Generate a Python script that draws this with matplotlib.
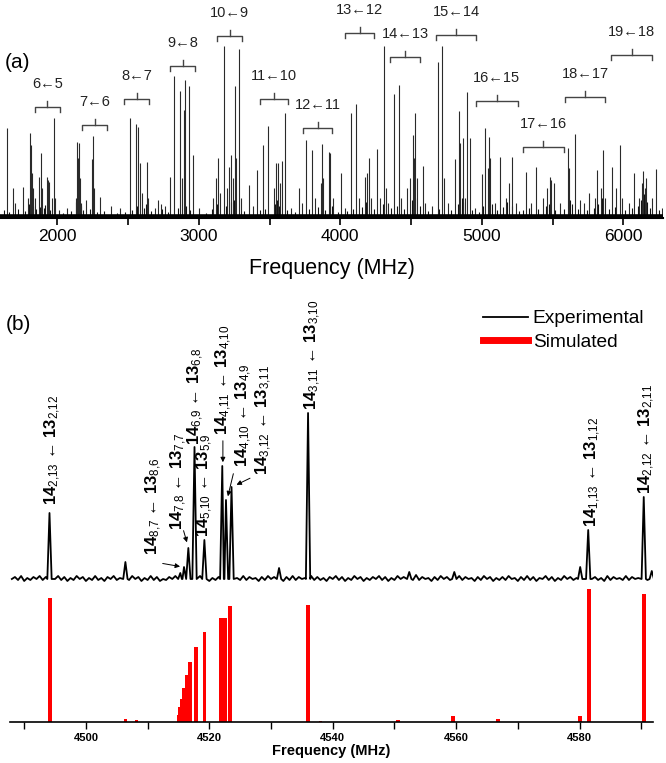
import numpy as np
import matplotlib
matplotlib.use('Agg')
from matplotlib import pyplot as plt
from matplotlib import ticker as mticker
from matplotlib.lines import Line2D

plt.rcParams['font.family'] = ['Liberation Sans', 'DejaVu Sans']
plt.rcParams['mathtext.fontset'] = 'custom'
plt.rcParams['mathtext.rm'] = 'Liberation Sans'
plt.rcParams['mathtext.bf'] = 'Liberation Sans:bold'
plt.rcParams['mathtext.it'] = 'Liberation Sans:italic'

W, H = 666, 763

# ---- (a) broadband spectrum: strong lines (MHz, arb. units)
a_freq = [1647, 1685, 1700, 1755, 1790, 1807, 1812, 1818, 1825, 1840, 1869, 1883, 1895, 1925, 1935,
          1944, 1960, 1977, 1985, 2010, 2070, 2130, 2141, 2148, 2155, 2160, 2170, 2200, 2245, 2254,
          2262, 2302, 2380, 2440, 2514, 2556, 2573, 2584, 2600, 2632, 2640, 2690, 2710, 2730, 2760,
          2796, 2825, 2867, 2880, 2895, 2903, 2929, 2957, 3000, 3100, 3122, 3138, 3150, 3178, 3200,
          3216, 3225, 3240, 3258, 3265, 3282, 3300, 3355, 3380, 3412, 3452, 3489, 3530, 3546, 3560,
          3575, 3588, 3607, 3650, 3706, 3730, 3758, 3801, 3820, 3860, 3871, 3880, 3918, 3927, 3950,
          4003, 4030, 4073, 4111, 4130, 4172, 4188, 4205, 4220, 4257, 4280, 4309, 4320, 4340, 4380,
          4413, 4430, 4470, 4495, 4512, 4520, 4530, 4540, 4587, 4600, 4650, 4688, 4719, 4730, 4760,
          4808, 4841, 4848, 4865, 4880, 4897, 4916, 4950, 5001, 5025, 5040, 5053, 5060, 5090, 5131,
          5170, 5195, 5216, 5240, 5310, 5350, 5380, 5430, 5460, 5484, 5490, 5507, 5550, 5610, 5615,
          5657, 5690, 5720, 5760, 5800, 5813, 5840, 5855, 5870, 5921, 5950, 5973, 5990, 6040, 6072,
          6110, 6135, 6142, 6150, 6160, 6200, 6234, 6270]
a_int = [90, 30, 15, 31, 20, 85, 73, 45, 30, 20, 41, 65, 30, 41, 38,
         36, 20, 100, 20, 8, 10, 20, 76, 60, 75, 40, 15, 18, 59, 82,
         30, 21, 12, 10, 100, 94, 91, 55, 25, 56, 20, 10, 18, 14, 12,
         41, 142, 127, 40, 108, 138, 132, 63, 10, 20, 40, 60, 25, 172, 30,
         51, 63, 40, 132, 60, 169, 20, 33, 12, 48, 73, 92, 30, 55, 55,
         35, 57, 105, 10, 30, 15, 78, 68, 20, 35, 74, 40, 66, 65, 20,
         45, 10, 105, 114, 20, 41, 45, 60, 20, 69, 20, 172, 30, 15, 124,
         133, 20, 30, 40, 83, 60, 105, 40, 52, 15, 12, 156, 172, 40, 15,
         59, 107, 75, 80, 20, 126, 80, 10, 44, 90, 50, 81, 60, 15, 61,
         20, 35, 61, 15, 46, 15, 51, 20, 30, 41, 38, 35, 15, 70, 50,
         84, 18, 15, 25, 20, 48, 30, 68, 20, 51, 30, 73, 20, 15, 45,
         20, 35, 47, 30, 40, 20, 49, 10]

# weak lines forming the dense grass near the baseline
weak_freq = [1620, 1660, 1720, 1770, 1800, 1815, 1830, 1850, 1875, 1905, 1915, 1950, 2040, 2100,
             2135, 2145, 2152, 2165, 2185, 2230, 2280, 2330, 2420, 2480, 2530, 2565, 2610, 2625,
             2660, 2740, 2780, 2850, 2910, 2940, 3050, 3090, 3130, 3190, 3230, 3250, 3320, 3430,
             3470, 3540, 3553, 3568, 3620, 3680, 3780, 3840, 3890, 3940, 3980, 4050, 4090, 4150,
             4180, 4240, 4300, 4360, 4400, 4450, 4505, 4525, 4560, 4620, 4700, 4780, 4830, 4858,
             4870, 4930, 4980, 5010, 5070, 5110, 5150, 5180, 5210, 5260, 5290, 5330, 5400, 5450,
             5475, 5520, 5580, 5625, 5640, 5680, 5740, 5790, 5820, 5848, 5900, 5940, 6010, 6060,
             6100, 6125, 6145, 6155, 6170, 6190, 6250]
weak_int = [8, 6, 9, 7, 14, 18, 12, 9, 11, 10, 13, 8, 5, 7,
            16, 22, 18, 12, 8, 9, 6, 7, 5, 6, 8, 12, 10, 14,
            7, 9, 6, 10, 12, 8, 5, 9, 14, 12, 16, 18, 7, 8,
            9, 14, 18, 12, 8, 6, 9, 11, 8, 12, 6, 7, 9, 11,
            16, 9, 14, 10, 12, 9, 18, 20, 12, 7, 9, 8, 14, 20,
            16, 8, 6, 12, 14, 8, 11, 16, 12, 7, 8, 10, 9, 12,
            14, 8, 9, 18, 14, 9, 8, 10, 14, 20, 9, 11, 8, 10,
            12, 18, 24, 20, 16, 10, 8]

# brackets: J'<-J'' groups
br_lo = [1842, 2175, 2472, 2797, 3129, 3433, 3737, 4033, 4351, 4676, 4958, 5290, 5588, 5913]
br_hi = [2019, 2351, 2648, 2973, 3305, 3630, 3942, 4238, 4563, 4958, 5255, 5580, 5870, 6202]
br_h = [111, 93, 119, 152, 182, 119, 90, 185, 161, 183, 117, 71, 121, 163]
br_lbl = ['6←5', '7←6', '8←7', '9←8', '10←9', '11←10', '12←11', '13←12', '14←13',
          '15←14', '16←15', '17←16', '18←17', '19←18']

# ---- (b) zoom on 14<-13
exp_freq = [4494.1, 4506.4, 4515.3, 4515.9, 4516.6, 4517.6, 4519.2, 4522.1, 4522.7, 4523.6,
            4531.3, 4536.0, 4552.4, 4559.7, 4580.1, 4581.4, 4590.4, 4591.7]
exp_int = [66, 17, 6, 12, 31, 132, 39, 113, 79, 92, 11, 166, 7, 7, 12, 49, 82, 8]
exp_noise = [0, 2, -1, 3, -2, 1, -1, 2, 0, 3, -1, 2, -2, 1, 0, 3, -1, 2, -2, 1,
             -1, 3, 0, 2, -2, 1, -1, 3, -1, 1, -2, 2, 0, 3, -1, 1, -2, 2, -1, 3,
             0, 2, -2, 1, -1, 3, -1, 2, -2, 0, -1, 2, 0, 3, -2, 1, -1, 2, -2, 1,
             0, 3, -1, 2, -2, 1, -1, 2, -1, 3, 0, 2, -2, 1, -1, 3, -1, 2, 0, 1,
             -2, 2, -1, 3, 0, 2, -1, 1, -2, 2, -1, 3, -1, 2, 0, 1, -2, 3, -1, 2,
             -1, 1, -2, 2, 0, 3, -1, 2, -2, 1, -1, 3, 0, 2, -2, 1, -1, 2, 0, 3,
             -1, 2, -2, 1, -1, 3, 0, 2, -2, 1, -1, 4, -1, 2, 0, 1, -2, 2, -1, 3,
             0, 2, -1, 1, -2, 3, -1, 2, 0, 1, -2, 2, -1, 3, 0, 2, -2, 1, -1, 2,
             -1, 3, 0, 1, -2, 2, -1, 3, -1, 2, -2, 1, 0, 3, -1, 2, -2, 1, -1, 3,
             0, 2, -1, 1, -2, 2, -1, 3, 0, 2, -1, 1, -2, 3, -1, 2, 0, 1, -1, 3,
             -1, 2, 0, 1, -2, 3, -1, 2, 0]
sim_freq = [4494.2, 4506.4, 4508.2, 4515.0, 4515.2, 4515.5, 4515.9, 4516.3, 4516.9, 4517.8,
            4519.2, 4521.9, 4522.5, 4523.4, 4536.0, 4538.0, 4550.6, 4559.5, 4566.8, 4580.1,
            4581.5, 4590.4]
sim_int = [124, 3, 2, 7, 15, 23, 34, 47, 60, 75,
           90, 104, 104, 116, 117, 1, 2, 6, 3, 6,
           133, 128]

# assignments: upper/lower quantum numbers, x (MHz), label base height
lab_up = ['14', '14', '14', '14', '14', '14', '14', '14', '14', '14', '14']
lab_up_k = ['2,13', '8,7', '7,8', '6,9', '5,10', '4,11', '4,10', '3,12', '3,11', '1,13', '2,12']
lab_lo = ['13', '13', '13', '13', '13', '13', '13', '13', '13', '13', '13']
lab_lo_k = ['2,12', '8,6', '7,7', '6,8', '5,9', '4,10', '4,9', '3,11', '3,10', '1,12', '2,11']
lab_x = [4494.6, 4511.0, 4515.1, 4517.8, 4519.3, 4522.3, 4525.6, 4528.9, 4536.7, 4582.2, 4590.9]
lab_y = [74, 24, 49, 134, 42, 144, 112, 104, 169, 52, 85]
# arrows from label to peak (x0, y0, x1, y1)
arr = [(4512.0, 16, 4515.7, 12),
       (4515.7, 51, 4516.5, 34),
       (4522.2, 141, 4522.2, 114),
       (4524.0, 108, 4522.9, 80),
       (4527.0, 102, 4524.0, 93)]

fig = plt.figure(figsize=(W / 100, H / 100), dpi=100)

# ---------------- panel (a)
ax = fig.add_axes([0, 1 - 218 / H, 663 / W, 218 / H])
ax.vlines(weak_freq, 0, weak_int, color='#111111', lw=0.8)
ax.vlines(a_freq, 0, a_int, color='#2a2a2a', lw=0.8)
ax.axhline(2, color='k', lw=2.6)
for lo, hi, h, t in zip(br_lo, br_hi, br_h, br_lbl):
    mid = (lo + hi) / 2
    ax.plot([lo, lo, hi, hi], [h - 5, h, h, h - 5], color='#444444', lw=1)
    ax.plot([mid, mid], [h, h + 6], color='#444444', lw=1)
    ax.text(mid, h + 23, t, ha='center', va='center', fontsize=10.5, color='#222222')
ax.set_xlim(1595, 6280)
ax.set_ylim(0, 218)
for s in ['top', 'left', 'right']:
    ax.spines[s].set_visible(False)
ax.spines['bottom'].set_linewidth(1.5)
ax.set_yticks([])
ax.xaxis.set_major_locator(mticker.MultipleLocator(1000))
ax.xaxis.set_minor_locator(mticker.MultipleLocator(500))
ax.tick_params(axis='x', which='both', direction='out', length=5, width=1.2, labelsize=12.5, pad=3)
ax.set_xlabel('Frequency (MHz)', fontsize=15.5, labelpad=10)
fig.text(17 / W, 1 - 63 / H, '(a)', fontsize=15, ha='center', va='center')

# ---------------- panel (b), experimental trace
ax_e = fig.add_axes([10 / W, 1 - 590 / H, 643 / W, 290 / H])
nx = np.linspace(4488, 4592, len(exp_noise))
keep = np.ones(len(nx), bool)
for f in exp_freq:
    keep &= np.abs(nx - f) > 0.4
px = list(nx[keep])
py = list(np.array(exp_noise, float)[keep])
for f, h in zip(exp_freq, exp_int):
    px += [f - 0.35, f, f + 0.35]
    py += [0, h, 0]
order = np.argsort(px)
line_exp, = ax_e.plot(np.array(px)[order], np.array(py)[order], color='k', lw=1.3)
for u, uk, l, lk, x, y in zip(lab_up, lab_up_k, lab_lo, lab_lo_k, lab_x, lab_y):
    t = r'$\mathbf{%s}_{\mathrm{%s}}$ ← $\mathbf{%s}_{\mathrm{%s}}$' % (
        u, uk.replace(',', '{,}'), l, lk.replace(',', '{,}'))
    ax_e.text(x, y, t, rotation=90, ha='center', va='bottom', fontsize=12)
for x0, y0, x1, y1 in arr:
    ax_e.annotate('', xy=(x1, y1), xytext=(x0, y0),
                  arrowprops=dict(arrowstyle='-|>', color='k', lw=0.7, mutation_scale=7))
ax_e.set_xlim(4487.7, 4591.9)
ax_e.set_ylim(-11, 279)
ax_e.axis('off')

# ---------------- panel (b), simulated sticks
ax_s = fig.add_axes([10 / W, 1 - 722 / H, 643 / W, 135 / H])
ax_s.bar(sim_freq, sim_int, width=0.6, color='#ff0000', edgecolor='none')
ax_s.set_xlim(4487.7, 4591.9)
ax_s.set_ylim(0, 135)
for s in ['top', 'left', 'right']:
    ax_s.spines[s].set_visible(False)
ax_s.spines['bottom'].set_linewidth(1.2)
ax_s.set_yticks([])
ax_s.xaxis.set_major_locator(mticker.MultipleLocator(20))
ax_s.xaxis.set_minor_locator(mticker.MultipleLocator(10))
ax_s.tick_params(axis='x', which='both', direction='out', length=5, width=1, labelsize=8, pad=3)
for lb in ax_s.get_xticklabels():
    lb.set_fontweight('bold')
ax_s.set_xlabel('Frequency (MHz)', fontsize=10.5, fontweight='bold', labelpad=1)
fig.text(18 / W, 1 - 325 / H, '(b)', fontsize=15, ha='center', va='center')

h_sim = Line2D([], [], color='#ff0000', lw=5)
fig.legend([line_exp, h_sim], ['Experimental', 'Simulated'], loc='upper left',
           bbox_to_anchor=(483 / W, 1 - 310 / H), bbox_transform=fig.transFigure,
           frameon=False, fontsize=13.8, borderpad=0, borderaxespad=0,
           handlelength=2.35, handletextpad=0.25, labelspacing=0.3)

fig.savefig('out.png', dpi=100)
